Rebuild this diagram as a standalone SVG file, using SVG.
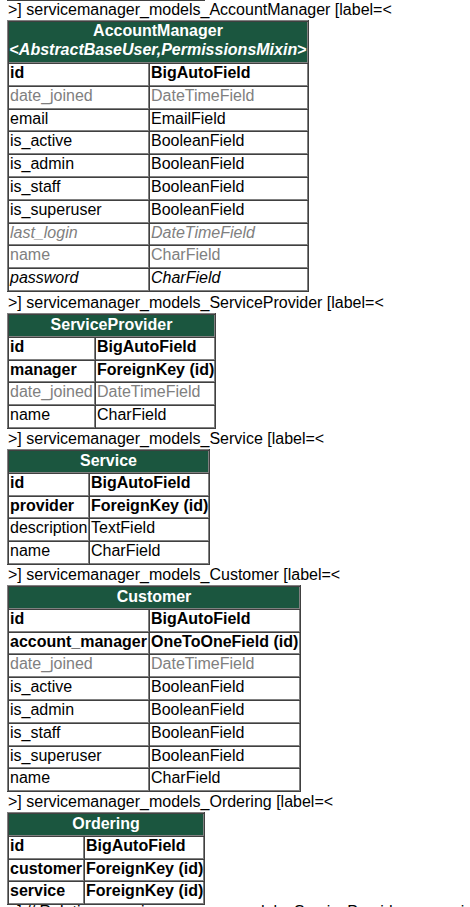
<svg xmlns="http://www.w3.org/2000/svg" width="470" height="907" viewBox="0 0 470 907">
<style>
text{font-family:"Liberation Sans",Arial,Helvetica,sans-serif;font-size:16px;fill:#000}
.b{font-weight:bold}
.i{font-style:italic}
.m{fill:#808080}
.h{fill:#fff;font-weight:bold;text-anchor:middle}
.hd{fill:#1b563f}
.g{fill:none;stroke:#808080;stroke-width:1}
.d{fill:none;stroke:#404040;stroke-width:1}
</style>
<rect x="0" y="0" width="470" height="907" fill="#fff"/>
<path class="d" d="M7 0.5H205"/>
<text x="8" y="14.5">&gt;] servicemanager_models_AccountManager [label=&lt;</text>
<text x="8" y="308">&gt;] servicemanager_models_ServiceProvider [label=&lt;</text>
<text x="8" y="444">&gt;] servicemanager_models_Service [label=&lt;</text>
<text x="8" y="580">&gt;] servicemanager_models_Customer [label=&lt;</text>
<text x="8" y="807">&gt;] servicemanager_models_Ordering [label=&lt;</text>
<text x="8" y="917">&gt;] // Relations servicemanager_models_ServiceProvider -&gt; servicemanager_models_AccountManager</text>

<g id="AccountManager">
<rect class="hd" x="8" y="21" width="300" height="42"/>
<path class="g" d="M7 20.5H309M7.5 20V292M8 62.5H308M8 85.5H308M8 108.5H308M8 130.5H308M8 153.5H308M8 176.5H308M8 199.5H308M8 222.5H308M8 244.5H308M8 267.5H308M8 290.5H308M307.5 21V291M148.5 63V291"/>
<path class="d" d="M7 291.5H309M308.5 20V292M8 21.5H308M8 63.5H308M8 86.5H308M8 109.5H308M8 131.5H308M8 154.5H308M8 177.5H308M8 200.5H308M8 223.5H308M8 245.5H308M8 268.5H308M8.5 21V291M149.5 63V291"/>
<text class="h" x="158" y="36">AccountManager</text>
<text class="h" x="158" y="55">&lt;<tspan class="i">AbstractBaseUser,PermissionsMixin</tspan>&gt;</text>
<text class="b" x="10" y="78">id</text><text class="b" x="151" y="78">BigAutoField</text>
<text class="m" x="10" y="101">date_joined</text><text class="m" x="151" y="101">DateTimeField</text>
<text x="10" y="124">email</text><text x="151" y="124">EmailField</text>
<text x="10" y="146">is_active</text><text x="151" y="146">BooleanField</text>
<text x="10" y="169">is_admin</text><text x="151" y="169">BooleanField</text>
<text x="10" y="192">is_staff</text><text x="151" y="192">BooleanField</text>
<text x="10" y="215">is_superuser</text><text x="151" y="215">BooleanField</text>
<text class="m i" x="10" y="238">last_login</text><text class="m i" x="151" y="238">DateTimeField</text>
<text class="m" x="10" y="260">name</text><text class="m" x="151" y="260">CharField</text>
<text class="i" x="10" y="283">password</text><text class="i" x="151" y="283">CharField</text>
</g>

<g id="ServiceProvider">
<rect class="hd" x="8" y="314" width="207" height="23"/>
<path class="g" d="M7 313.5H216M7.5 313V429M8 336.5H215M8 359.5H215M8 381.5H215M8 404.5H215M8 427.5H215M214.5 314V428M94.5 337V428"/>
<path class="d" d="M7 428.5H216M215.5 313V429M8 314.5H215M8 337.5H215M8 360.5H215M8 382.5H215M8 405.5H215M8.5 314V428M95.5 337V428"/>
<text class="h" x="111.5" y="329.5">ServiceProvider</text>
<text class="b" x="10" y="352">id</text><text class="b" x="97" y="352">BigAutoField</text>
<text class="b" x="10" y="375">manager</text><text class="b" x="97" y="375">ForeignKey (id)</text>
<text class="m" x="10" y="397">date_joined</text><text class="m" x="97" y="397">DateTimeField</text>
<text x="10" y="420">name</text><text x="97" y="420">CharField</text>
</g>

<g id="Service">
<rect class="hd" x="8" y="450" width="201" height="23"/>
<path class="g" d="M7 449.5H210M7.5 449V565M8 472.5H209M8 495.5H209M8 517.5H209M8 540.5H209M8 563.5H209M208.5 450V564M88.5 473V564"/>
<path class="d" d="M7 564.5H210M209.5 449V565M8 450.5H209M8 473.5H209M8 496.5H209M8 518.5H209M8 541.5H209M8.5 450V564M89.5 473V564"/>
<text class="h" x="108.5" y="465.5">Service</text>
<text class="b" x="10" y="488">id</text><text class="b" x="91" y="488">BigAutoField</text>
<text class="b" x="10" y="511">provider</text><text class="b" x="91" y="511">ForeignKey (id)</text>
<text x="10" y="533">description</text><text x="91" y="533">TextField</text>
<text x="10" y="556">name</text><text x="91" y="556">CharField</text>
</g>

<g id="Customer">
<rect class="hd" x="8" y="586" width="292" height="23"/>
<path class="g" d="M7 585.5H301M7.5 585V792M8 608.5H300M8 631.5H300M8 653.5H300M8 676.5H300M8 699.5H300M8 722.5H300M8 745.5H300M8 767.5H300M8 790.5H300M299.5 586V791M148.5 609V791"/>
<path class="d" d="M7 791.5H301M300.5 585V792M8 586.5H300M8 609.5H300M8 632.5H300M8 654.5H300M8 677.5H300M8 700.5H300M8 723.5H300M8 746.5H300M8 768.5H300M8.5 586V791M149.5 609V791"/>
<text class="h" x="154" y="601.5">Customer</text>
<text class="b" x="10" y="624">id</text><text class="b" x="151" y="624">BigAutoField</text>
<text class="b" x="10" y="647">account_manager</text><text class="b" x="151" y="647">OneToOneField (id)</text>
<text class="m" x="10" y="669">date_joined</text><text class="m" x="151" y="669">DateTimeField</text>
<text x="10" y="692">is_active</text><text x="151" y="692">BooleanField</text>
<text x="10" y="715">is_admin</text><text x="151" y="715">BooleanField</text>
<text x="10" y="738">is_staff</text><text x="151" y="738">BooleanField</text>
<text x="10" y="761">is_superuser</text><text x="151" y="761">BooleanField</text>
<text x="10" y="783">name</text><text x="151" y="783">CharField</text>
</g>

<g id="Ordering">
<rect class="hd" x="8" y="813" width="196" height="23"/>
<path class="g" d="M7 812.5H205M7.5 812V905M8 835.5H204M8 858.5H204M8 880.5H204M8 903.5H204M203.5 813V904M83.5 836V904"/>
<path class="d" d="M7 904.5H205M204.5 812V905M8 813.5H204M8 836.5H204M8 859.5H204M8 881.5H204M8.5 813V904M84.5 836V904"/>
<text class="h" x="106" y="828.5">Ordering</text>
<text class="b" x="10" y="851">id</text><text class="b" x="86" y="851">BigAutoField</text>
<text class="b" x="10" y="874">customer</text><text class="b" x="86" y="874">ForeignKey (id)</text>
<text class="b" x="10" y="896">service</text><text class="b" x="86" y="896">ForeignKey (id)</text>
</g>

<g id="connectors"></g>
</svg>
